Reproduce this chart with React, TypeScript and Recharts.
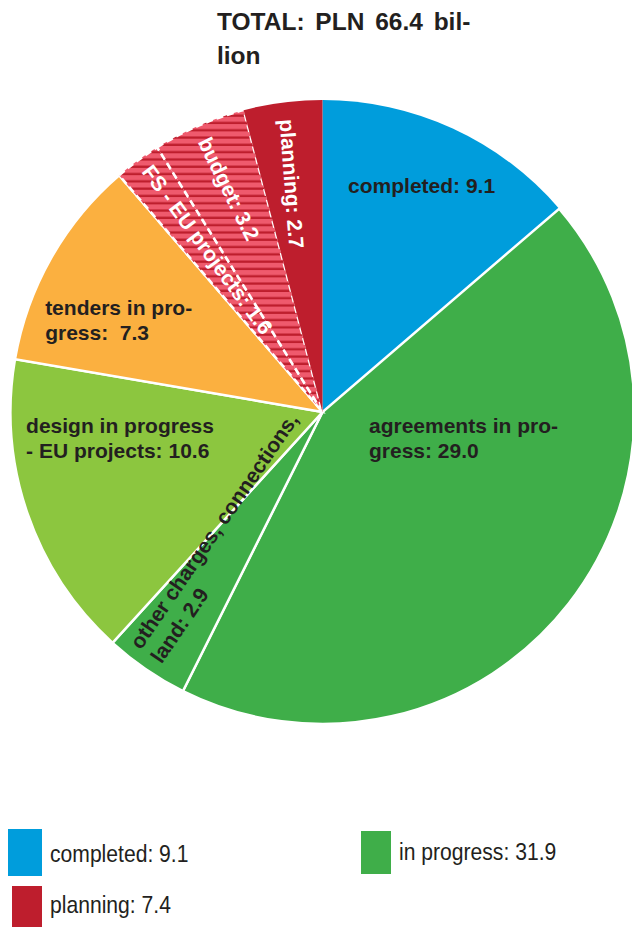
import React from 'react';
import { PieChart, Pie, Cell } from 'recharts';

// --- data ---
const sliceNames = [
    'completed',
    'agreements in progress',
    'other charges, connections, land',
    'design in progress - EU projects',
    'tenders in progress',
    'FS - EU projects',
    'budget',
    'planning',
];
const sliceValues = [9.1, 29.0, 2.9, 10.6, 7.3, 1.6, 3.2, 2.7];
const sliceLabels = [
    ['completed: 9.1'],
    ['agreements in pro-', 'gress: 29.0'],
    ['other charges, connections,', 'land: 2.9'],
    ['design in progress', '- EU projects: 10.6'],
    ['tenders in pro-', 'gress:  7.3'],
    ['FS - EU projects: 1.6'],
    ['budget: 3.2'],
    ['planning: 2.7'],
];

const legendNames = ['completed', 'in progress', 'planning'];
const legendValues = [9.1, 31.9, 7.4];

const titleLines = ['TOTAL: PLN 66.4 bil-', 'lion'];

// --- styles ---
const BLUE = '#009ddc';
const GREEN = '#3fae49';
const LIGHT_GREEN = '#8cc63f';
const ORANGE = '#fbb040';
const RED = '#be1e2d';
const PINK = '#ef5a6d';
const TEXT = '#231f20';

const sliceFills = [BLUE, GREEN, GREEN, LIGHT_GREEN, ORANGE, 'url(#hatch)', 'url(#hatch)', RED];
const sliceStrokes = ['none', '#fff', '#fff', '#fff', '#fff', '#fff', '#fff', 'none'];
const sliceDashes = [undefined, undefined, undefined, undefined, undefined, '7 4', '7 4', undefined];
const legendColors = [BLUE, GREEN, RED];

// label placement: horizontal ones as offsets of the radius, radial ones along the slice
const labelPos: any[] = [
    { fx: 0.082, fy: -0.702 },
    { fx: 0.149, fy: 0.067 },
    { radial: true, rf: 0.96, da: -2, dr: 0 },
    { fx: -0.95, fy: 0.067 },
    { fx: -0.889, fy: -0.311 },
    { radial: true, rf: 0.965, da: -0.8, dr: 0 },
    { radial: true, rf: 0.955, da: 0, dr: -3 },
    { radial: true, rf: 0.945, da: -0.5, dr: 3 },
];

const legendPos = [
    { x: 8, y: 829, w: 34, h: 47, tx: 50, ty: 862 },
    { x: 361, y: 831, w: 30, h: 43, tx: 399, ty: 860 },
    { x: 12, y: 886, w: 30, h: 45, tx: 50, ty: 913 },
];

const RAD = Math.PI / 180;
const LINE_H = 25;
const LABEL_SIZE = 21;
const FONT = '"Liberation Sans", Arial, sans-serif';

const data = sliceNames.map((name, i) => ({ name, value: sliceValues[i] }));

function renderLabel(props: any) {
    const { cx, cy, midAngle, outerRadius, index } = props;
    const p = labelPos[index];
    const lines = sliceLabels[index];
    const color = index >= 5 ? '#fff' : TEXT;

    if (p.radial) {
        const ang = midAngle + p.da;
        const r = outerRadius * p.rf;
        const x = cx + r * Math.cos(-ang * RAD);
        const y = cy + r * Math.sin(-ang * RAD);
        const norm = ((midAngle % 360) + 360) % 360;
        const rot = 180 - norm + p.dr;
        const off = ((lines.length - 1) / 2) * LINE_H;
        return (
            <text
                key={`lbl-${index}`}
                transform={`translate(${x},${y}) rotate(${rot})`}
                fill={color}
                fontFamily={FONT}
                fontWeight="bold"
                fontSize={LABEL_SIZE}
                dominantBaseline="central"
                textAnchor="start"
            >
                {lines.map((l, i) => (
                    <tspan key={i} x={0} y={i * LINE_H - off}>{l}</tspan>
                ))}
            </text>
        );
    }

    const x = cx + p.fx * outerRadius;
    const y = cy + p.fy * outerRadius;
    return (
        <text
            key={`lbl-${index}`}
            x={x}
            y={y}
            fill={color}
            fontFamily={FONT}
            fontWeight="bold"
            fontSize={LABEL_SIZE}
            textAnchor="start"
            style={{ whiteSpace: 'pre' }}
        >
            {lines.map((l, i) => (
                <tspan key={i} x={x} y={y + i * LINE_H}>{l}</tspan>
            ))}
        </text>
    );
}

export default function App() {
    return (
        <div style={{ position: 'relative', width: 632, height: 927, background: '#fff', overflow: 'hidden' }}>
            <style>{'body{margin:0}'}</style>

            <PieChart width={632} height={927} margin={{ top: 0, right: 0, bottom: 0, left: 0 }}>
                <defs>
                    <pattern id="hatch" patternUnits="userSpaceOnUse" width="10" height="7.3">
                        <rect width="10" height="7.3" fill={RED} />
                        <rect width="10" height="5" fill={PINK} />
                    </pattern>
                </defs>
                <Pie
                    data={data}
                    dataKey="value"
                    nameKey="name"
                    cx={322.5}
                    cy={412}
                    outerRadius={312}
                    startAngle={90}
                    endAngle={-270}
                    stroke="#fff"
                    strokeWidth={2.5}
                    label={renderLabel}
                    labelLine={false}
                    isAnimationActive={false}
                >
                    {data.map((d, i) => (
                        <Cell
                            key={`cell-${i}`}
                            fill={sliceFills[i]}
                            stroke={sliceStrokes[i]}
                            strokeDasharray={sliceDashes[i]}
                        />
                    ))}
                </Pie>
            </PieChart>

            {/* title + legend */}
            <svg width={632} height={927} style={{ position: 'absolute', left: 0, top: 0, pointerEvents: 'none' }}>
                {titleLines.map((t, i) => (
                    <text
                        key={i}
                        x={217}
                        y={30 + i * 34}
                        fill={TEXT}
                        fontFamily={FONT}
                        fontWeight="bold"
                        fontSize={24.5}
                        wordSpacing={4}
                    >
                        {t}
                    </text>
                ))}
                {legendNames.map((n, i) => {
                    const p = legendPos[i];
                    return (
                        <g key={n}>
                            <rect x={p.x} y={p.y} width={p.w} height={p.h} fill={legendColors[i]} />
                            <text
                                transform={`translate(${p.tx},${p.ty}) scale(0.88,1)`}
                                fill={TEXT}
                                fontFamily={FONT}
                                fontSize={24}
                            >
                                {`${n}: ${legendValues[i].toFixed(1)}`}
                            </text>
                        </g>
                    );
                })}
            </svg>
        </div>
    );
}
